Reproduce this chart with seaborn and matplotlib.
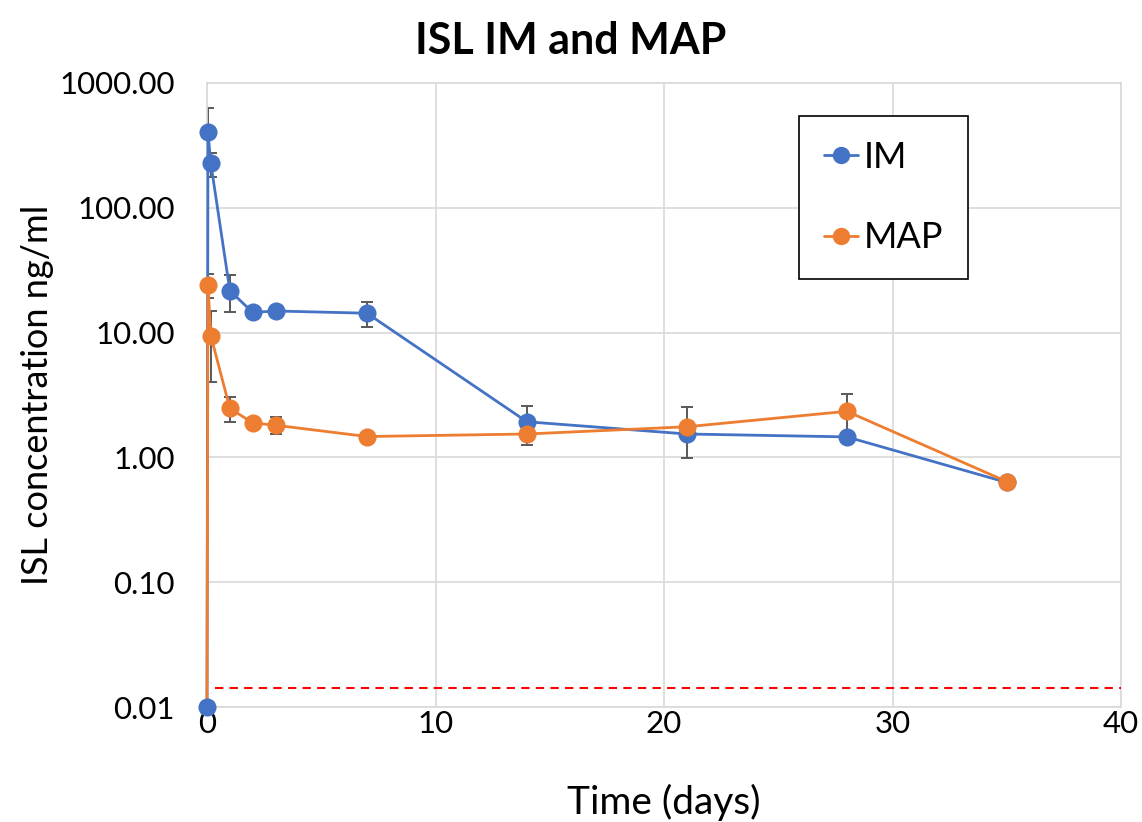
import numpy as np
import pandas as pd
import matplotlib
matplotlib.use("Agg")
import matplotlib.pyplot as plt
from matplotlib.lines import Line2D
from matplotlib.ticker import FixedLocator, FixedFormatter
import seaborn as sns

# ---- data ----
time_days = [0, 0.042, 0.167, 1, 2, 3, 7, 14, 21, 28, 35]
im_conc = [0.01, 402, 227, 21.7, 14.5, 14.9, 14.3, 1.93, 1.54, 1.46, 0.63]
im_err = [0, 225, 50, 7.2, 0, 0, 3.2, 0.67, 0, 0, 0]
map_conc = [0.01, 24.1, 9.45, 2.47, 1.89, 1.81, 1.47, 1.54, 1.76, 2.34, 0.64]
map_err = [0, 5.3, 5.4, 0.55, 0, 0.28, 0, 0, 0.78, 0.89, 0]
lloq = 0.0142
lloq_x = [0.35, 40]
series_names = ["IM", "MAP"]
y_ticks = [0.01, 0.1, 1, 10, 100, 1000]
y_tick_labels = ["0.01", "0.10", "1.00", "10.00", "100.00", "1000.00"]
x_ticks = [0, 10, 20, 30, 40]

BLUE = "#4472C4"
ORANGE = "#ED7D31"

sns.set_theme(style="white")
plt.rcParams["font.family"] = ["Lato", "DejaVu Sans"]
plt.rcParams["text.color"] = "black"
plt.rcParams["axes.labelcolor"] = "black"
plt.rcParams["xtick.color"] = "black"
plt.rcParams["ytick.color"] = "black"

df_im = pd.DataFrame({"time": time_days, "conc": im_conc, "err": im_err})
df_map = pd.DataFrame({"time": time_days, "conc": map_conc, "err": map_err})

fig = plt.figure(figsize=(11.42, 8.22), dpi=100)
ax = fig.add_axes([207 / 1142, 1 - 707 / 822, (1121 - 207) / 1142, (707 - 83) / 822])
ax.set_yscale("log")

# error bars (below markers)
for d in (df_im, df_map):
    m = d["err"] > 0
    ax.errorbar(d.loc[m, "time"], d.loc[m, "conc"], yerr=d.loc[m, "err"], fmt="none",
                ecolor="#595959", elinewidth=1.4, capsize=4, capthick=1.4, zorder=2)

# lines
sns.lineplot(data=df_im, x="time", y="conc", ax=ax, color=BLUE, linewidth=2.0,
             sort=False, estimator=None, zorder=3, clip_on=False)
sns.lineplot(data=df_map, x="time", y="conc", ax=ax, color=ORANGE, linewidth=2.0,
             sort=False, estimator=None, zorder=5, clip_on=False)
# markers
sns.scatterplot(data=df_im, x="time", y="conc", ax=ax, color=BLUE, s=170,
                linewidth=0, zorder=6, clip_on=False)
sns.scatterplot(data=df_map.iloc[1:], x="time", y="conc", ax=ax, color=ORANGE, s=170,
                linewidth=0, zorder=7, clip_on=False)

# LLOQ dashed line
ax.plot(lloq_x, [lloq, lloq], color="red", linestyle=(0, (4, 3)), linewidth=1.5, zorder=4)

ax.set_xlim(0, 40)
ax.set_ylim(0.01, 1000)
ax.xaxis.set_major_locator(FixedLocator(x_ticks))
ax.yaxis.set_major_locator(FixedLocator(y_ticks))
ax.yaxis.set_major_formatter(FixedFormatter(y_tick_labels))
ax.yaxis.set_minor_locator(FixedLocator([]))
ax.tick_params(axis="both", length=0, labelsize=22.5, colors="#000000", labelcolor="#000000")
ax.tick_params(axis="x", pad=2)
ax.tick_params(axis="y", pad=23)
ax.grid(True, color="#d9d9d9", linewidth=1.2)
ax.set_axisbelow(True)
for s in ax.spines.values():
    s.set_color("#d9d9d9")
    s.set_linewidth(1.2)

ax.set_xlabel("Time (days)", fontsize=28, labelpad=33, color="black")
ax.set_ylabel("ISL concentration ng/ml", fontsize=26, labelpad=4, color="black")
fig.suptitle("ISL IM and MAP", fontsize=31, fontweight="bold", y=0.974, color="black")

handles = [Line2D([], [], color=BLUE, marker="o", markersize=12.5, linewidth=2.0, markeredgewidth=0),
           Line2D([], [], color=ORANGE, marker="o", markersize=12.5, linewidth=2.0, markeredgewidth=0)]
leg = ax.legend(handles, series_names, loc="upper left", bbox_to_anchor=(0.648, 0.947),
                fontsize=26, frameon=True, fancybox=False, edgecolor="black",
                labelspacing=1.32, handlelength=0.95, handletextpad=0.15,
                borderpad=0.68, borderaxespad=0, framealpha=1, labelcolor="black")
leg.get_frame().set_linewidth(1.2)

fig.savefig("out.png", dpi=100)
